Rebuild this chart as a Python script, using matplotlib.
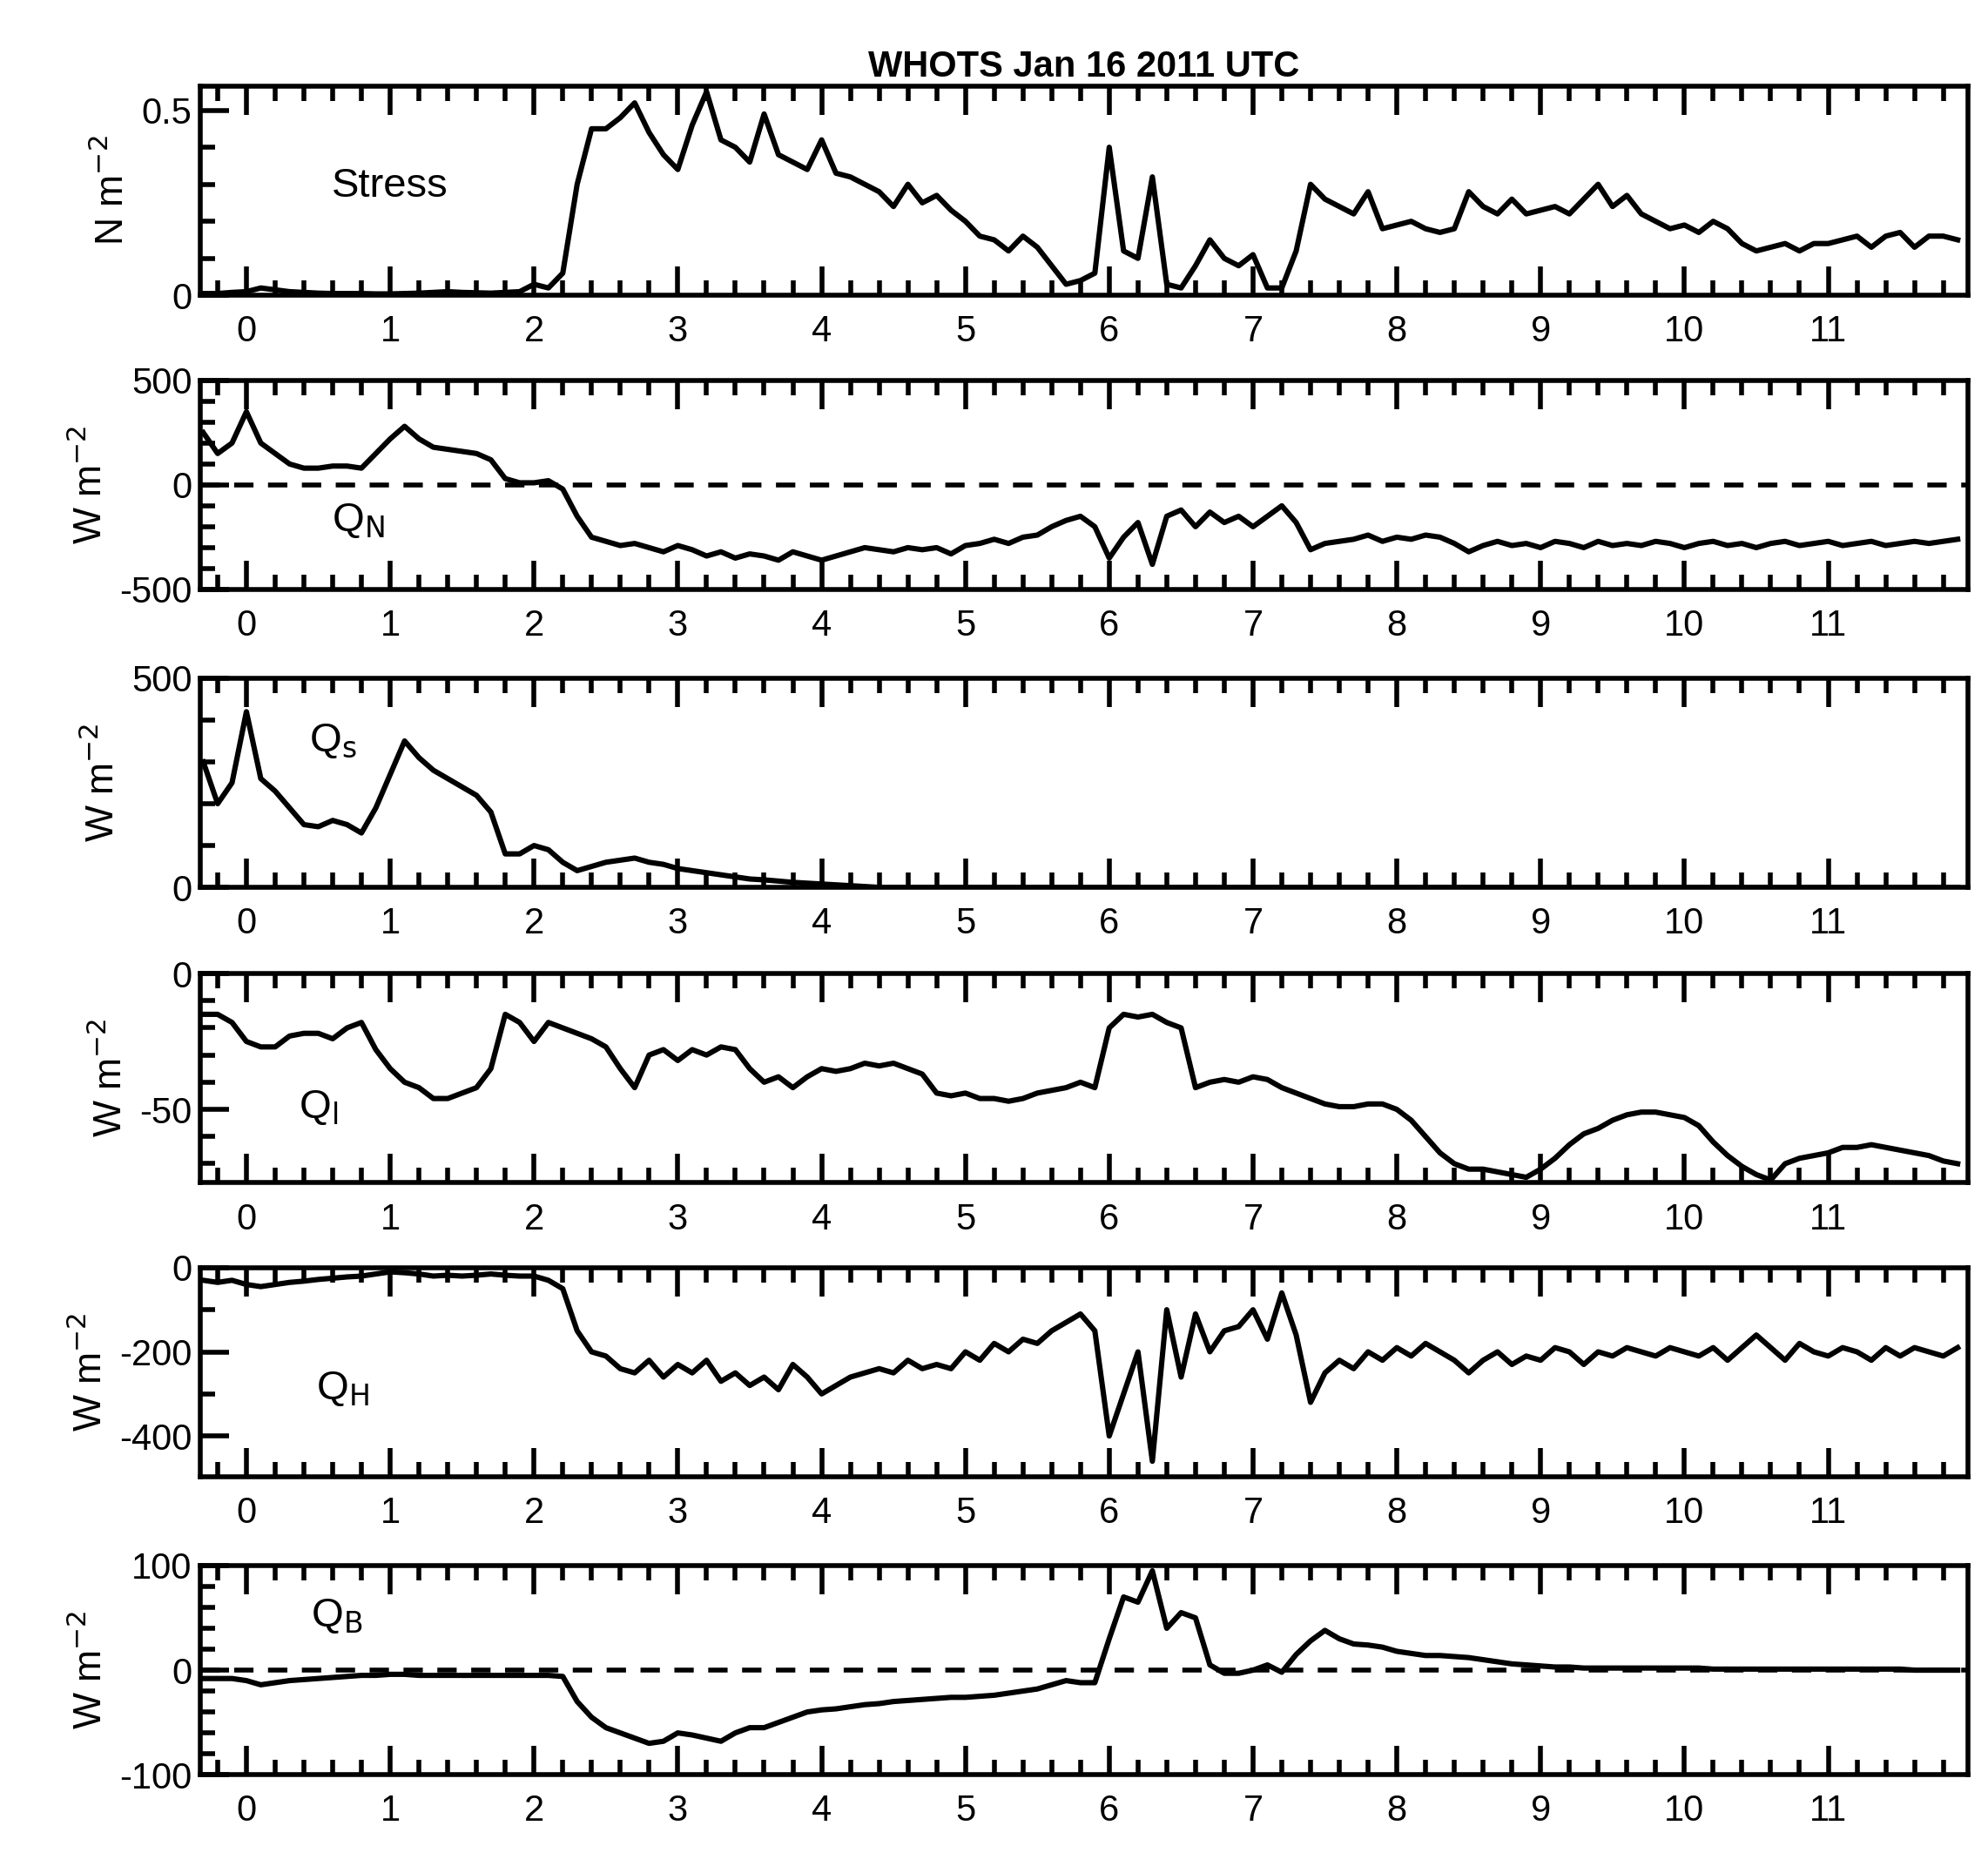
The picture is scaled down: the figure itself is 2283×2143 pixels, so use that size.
import numpy as np
import matplotlib
matplotlib.use("Agg")
import matplotlib.pyplot as plt
from matplotlib.ticker import MultipleLocator, FormatStrFormatter

plt.rcParams.update({
    'font.family': ['Liberation Sans', 'DejaVu Sans'],
    'font.size': 15, 'axes.linewidth': 2.0,
    'xtick.direction': 'in', 'ytick.direction': 'in',
    'axes.unicode_minus': False,
})

hours = np.arange(-3, 120) / 10.0

stress = [0.005, 0.005, 0.008,
          0.01, 0.02, 0.015, 0.01, 0.008, 0.006, 0.005, 0.005, 0.005, 0.004,
          0.004, 0.005, 0.006, 0.008, 0.01, 0.008, 0.007, 0.006, 0.008, 0.01,
          0.03, 0.02, 0.06, 0.30, 0.45, 0.45, 0.48, 0.52, 0.44, 0.38,
          0.34, 0.46, 0.55, 0.42, 0.40, 0.36, 0.49, 0.38, 0.36, 0.34,
          0.42, 0.33, 0.32, 0.30, 0.28, 0.24, 0.30, 0.25, 0.27, 0.23,
          0.20, 0.16, 0.15, 0.12, 0.16, 0.13, 0.08, 0.03, 0.04, 0.06,
          0.40, 0.12, 0.10, 0.32, 0.03, 0.02, 0.08, 0.15, 0.10, 0.08,
          0.11, 0.02, 0.02, 0.12, 0.30, 0.26, 0.24, 0.22, 0.28, 0.18,
          0.19, 0.20, 0.18, 0.17, 0.18, 0.28, 0.24, 0.22, 0.26, 0.22,
          0.23, 0.24, 0.22, 0.26, 0.30, 0.24, 0.27, 0.22, 0.20, 0.18,
          0.19, 0.17, 0.20, 0.18, 0.14, 0.12, 0.13, 0.14, 0.12, 0.14,
          0.14, 0.15, 0.16, 0.13, 0.16, 0.17, 0.13, 0.16, 0.16, 0.15]

q_net = [250, 150, 200,
         350, 200, 150, 100, 80, 80, 90, 90, 80, 150,
         220, 280, 220, 180, 170, 160, 150, 120, 30, 10,
         10, 20, -20, -150, -250, -270, -290, -280, -300, -320,
         -290, -310, -340, -320, -350, -330, -340, -360, -320, -340,
         -360, -340, -320, -300, -310, -320, -300, -310, -300, -330,
         -290, -280, -260, -280, -250, -240, -200, -170, -150, -200,
         -350, -250, -180, -380, -150, -120, -200, -130, -180, -150,
         -200, -150, -100, -180, -310, -280, -270, -260, -240, -270,
         -250, -260, -240, -250, -280, -320, -290, -270, -290, -280,
         -300, -270, -280, -300, -270, -290, -280, -290, -270, -280,
         -300, -280, -270, -290, -280, -300, -280, -270, -290, -280,
         -270, -290, -280, -270, -290, -280, -270, -280, -270, -260]

q_s = [300, 200, 250,
       420, 260, 230, 190, 150, 145, 160, 150, 130, 190,
       270, 350, 310, 280, 260, 240, 220, 180, 80, 80,
       100, 90, 60, 40, 50, 60, 65, 70, 60, 55,
       45, 40, 35, 30, 25, 20, 18, 15, 12, 10,
       8, 6, 4, 2, 0, 0, 0, 0, 0, 0] + [0] * 70

q_l = [-15, -15, -18,
       -25, -27, -27, -23, -22, -22, -24, -20, -18, -28,
       -35, -40, -42, -46, -46, -44, -42, -35, -15, -18,
       -25, -18, -20, -22, -24, -27, -35, -42, -30, -28,
       -32, -28, -30, -27, -28, -35, -40, -38, -42, -38,
       -35, -36, -35, -33, -34, -33, -35, -37, -44, -45,
       -44, -46, -46, -47, -46, -44, -43, -42, -40, -42,
       -20, -15, -16, -15, -18, -20, -42, -40, -39, -40,
       -38, -39, -42, -44, -46, -48, -49, -49, -48, -48,
       -50, -54, -60, -66, -70, -72, -72, -73, -74, -75,
       -72, -68, -63, -59, -57, -54, -52, -51, -51, -52,
       -53, -56, -62, -67, -71, -74, -76, -70, -68, -67,
       -66, -64, -64, -63, -64, -65, -66, -67, -69, -70]

q_h = [-30, -35, -30,
       -40, -45, -40, -35, -32, -28, -25, -22, -20, -15,
       -10, -12, -15, -20, -18, -20, -18, -15, -18, -20,
       -20, -30, -50, -150, -200, -210, -240, -250, -220, -260,
       -230, -250, -220, -270, -250, -280, -260, -290, -230, -260,
       -300, -280, -260, -250, -240, -250, -220, -240, -230, -240,
       -200, -220, -180, -200, -170, -180, -150, -130, -110, -150,
       -400, -300, -200, -460, -100, -260, -110, -200, -150, -140,
       -100, -170, -60, -160, -320, -250, -220, -240, -200, -220,
       -190, -210, -180, -200, -220, -250, -220, -200, -230, -210,
       -220, -190, -200, -230, -200, -210, -190, -200, -210, -190,
       -200, -210, -190, -220, -190, -160, -190, -220, -180, -200,
       -210, -190, -200, -220, -190, -210, -190, -200, -210, -190]

q_b = [-8, -8, -8,
       -10, -14, -12, -10, -9, -8, -7, -6, -5, -5,
       -4, -4, -5, -5, -5, -5, -5, -5, -5, -5,
       -5, -5, -6, -30, -45, -55, -60, -65, -70, -68,
       -60, -62, -65, -68, -60, -55, -55, -50, -45, -40,
       -38, -37, -35, -33, -32, -30, -29, -28, -27, -26,
       -26, -25, -24, -22, -20, -18, -14, -10, -12, -12,
       30, 70, 65, 95, 40, 55, 50, 5, -3, -3,
       0, 5, -2, 15, 28, 38, 30, 25, 24, 22,
       18, 16, 14, 14, 13, 12, 10, 8, 6, 5,
       4, 3, 3, 2, 2, 2, 2, 2, 2, 2,
       2, 2, 1, 1, 1, 1, 1, 1, 1, 1,
       1, 1, 1, 1, 1, 1, 0, 0, 0, 0]

panels = [
    (stress, (0, 0.565), [0, 0.5], 0.1, 'N m$^{-2}$', 'Stress', (1.0, 0.52), False),
    (q_net, (-500, 500), [-500, 0, 500], 100, 'W m$^{-2}$', 'Q$_\\mathrm{N}$', (0.78, 0.33), True),
    (q_s, (0, 500), [0, 500], 100, 'W m$^{-2}$', 'Q$_\\mathrm{s}$', (0.6, 0.7), False),
    (q_l, (-77, 0), [-50, 0], 10, 'W m$^{-2}$', 'Q$_\\mathrm{l}$', (0.5, 0.36), False),
    (q_h, (-497, 0), [-400, -200, 0], 100, 'W m$^{-2}$', 'Q$_\\mathrm{H}$', (0.67, 0.42), False),
    (q_b, (-100, 100), [-100, 0, 100], 20, 'W m$^{-2}$', 'Q$_\\mathrm{B}$', (0.63, 0.76), True),
]

fig = plt.figure(figsize=(11.415, 10.715), dpi=200)
tops = [68, 300, 535, 768, 1000, 1235]
H = 1472.0
for top, (vals, ylim, yticks, yminor, ylab, name, pos, zero) in zip(tops, panels):
    ax = fig.add_axes([0.1008, 1 - (top + 165) / H, 0.889, 165 / H])
    ax.plot(hours, vals, color='black', lw=2.2)
    if zero:
        ax.axhline(0, color='black', lw=2.0, ls=(0, (4, 3)))
    ax.set_xlim(-0.32, 11.97)
    ax.set_ylim(*ylim)
    ax.set_xticks(range(12))
    ax.xaxis.set_minor_locator(MultipleLocator(0.2))
    ax.set_yticks(yticks)
    ax.set_yticklabels([f'{t:g}' for t in yticks])
    ax.yaxis.set_minor_locator(MultipleLocator(yminor))
    ax.tick_params(axis='x', which='both', top=True, bottom=True, width=2, pad=8)
    ax.tick_params(axis='x', which='major', length=12)
    ax.tick_params(axis='x', which='minor', length=6)
    ax.tick_params(axis='y', which='both', left=True, right=False, width=2)
    ax.tick_params(axis='y', which='major', length=12)
    ax.tick_params(axis='y', which='minor', length=6)
    ax.set_ylabel(ylab, fontsize=16)
    ax.text(pos[0], ylim[0] + pos[1] * (ylim[1] - ylim[0]), name,
            fontsize=17, ha='center', va='center')
    if top == 68:
        ax.set_title('WHOTS Jan 16 2011 UTC', fontsize=15, fontweight='bold', pad=4)

fig.savefig('out.png', dpi=200)
